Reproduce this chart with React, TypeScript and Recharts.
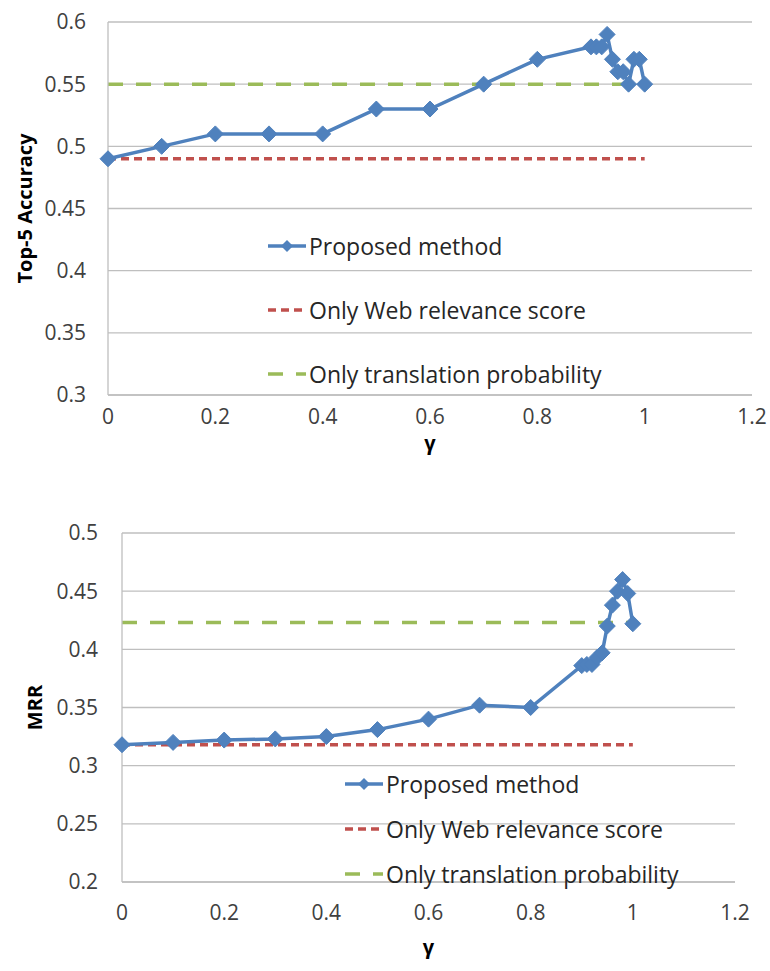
import React from "react";
import { LineChart, Line, XAxis, YAxis, CartesianGrid, Legend } from "recharts";

// gamma values shared by both panels
const gamma = [0, 0.1, 0.2, 0.3, 0.4, 0.5, 0.6, 0.7, 0.8, 0.9, 0.91, 0.92, 0.93, 0.94, 0.95, 0.96, 0.97, 0.98, 0.99, 1.0];

const top5Proposed = [0.49, 0.5, 0.51, 0.51, 0.51, 0.53, 0.53, 0.55, 0.57, 0.58, 0.58, 0.58, 0.59, 0.57, 0.56, 0.56, 0.55, 0.57, 0.57, 0.55];
const top5WebOnly = 0.49;
const top5TransOnly = 0.55;

const mrrProposed = [0.318, 0.32, 0.322, 0.323, 0.325, 0.331, 0.34, 0.352, 0.35, 0.386, 0.387, 0.387, 0.393, 0.397, 0.42, 0.438, 0.45, 0.46, 0.448, 0.422];
const mrrWebOnly = 0.318;
const mrrTransOnly = 0.423;

const xTicks = [0, 0.2, 0.4, 0.6, 0.8, 1, 1.2];
const top5Ticks = [0.3, 0.35, 0.4, 0.45, 0.5, 0.55, 0.6];
const mrrTicks = [0.2, 0.25, 0.3, 0.35, 0.4, 0.45, 0.5];

const seriesNames = ["Proposed method", "Only Web relevance score", "Only translation probability"];

const BLUE = "#4F81BD";
const RED = "#C0504D";
const GREEN = "#9BBB59";
const FONT = "'Open Sans', sans-serif";

const toPoints = (ys: number[]) => gamma.map((x, i) => ({ x, y: ys[i] }));
const flat = (y: number) => [{ x: 0, y }, { x: 1, y }];

const Diamond = (props: any) => {
  const { cx, cy, index } = props;
  if (cx == null || cy == null) return null;
  const r = 8;
  return (
    <path
      key={`d-${index}`}
      d={`M${cx},${cy - r}L${cx + r},${cy}L${cx},${cy + r}L${cx - r},${cy}Z`}
      fill={BLUE}
      stroke={BLUE}
      strokeWidth={1}
    />
  );
};

const LegendBox = ({ rowHeight }: { rowHeight: number }) => (
  <div style={{ fontFamily: FONT, fontSize: 23, color: "#262626" }}>
    {seriesNames.map((name, i) => (
      <div key={name} style={{ height: rowHeight, display: "flex", alignItems: "center" }}>
        <svg width={40} height={18} style={{ marginRight: 1 }}>
          {i === 0 && (
            <>
              <line x1={0} y1={9} x2={38} y2={9} stroke={BLUE} strokeWidth={3.5} />
              <path d="M19,3L25,9L19,15L13,9Z" fill={BLUE} />
            </>
          )}
          {i === 1 && <line x1={0} y1={9} x2={38} y2={9} stroke={RED} strokeWidth={3.5} strokeDasharray="8 5" />}
          {i === 2 && <line x1={0} y1={9} x2={38} y2={9} stroke={GREEN} strokeWidth={3.5} strokeDasharray="15 13" />}
        </svg>
        <span style={{ whiteSpace: "nowrap" }}>{name}</span>
      </div>
    ))}
  </div>
);

const tickStyle = { fill: "#404040", fontSize: 21, fontFamily: FONT };
const titleStyle = { fill: "#000", fontSize: 20, fontWeight: 700, fontFamily: FONT, textAnchor: "middle" as const };

interface PanelProps {
  width: number;
  height: number;
  margin: { top: number; right: number; bottom: number; left: number };
  yAxisWidth: number;
  yTicks: number[];
  yTitle: string;
  yTitleOffset: number;
  xTickMargin: number;
  xTitleOffset: number;
  yTickMargin: number;
  proposed: number[];
  webOnly: number;
  transOnly: number;
  legendLeft: number;
  legendTop: number;
  legendRow: number;
}

function Panel(p: PanelProps) {
  return (
    <LineChart width={p.width} height={p.height} margin={p.margin}>
      <CartesianGrid vertical={false} stroke="#BFBFBF" strokeWidth={1.3} />
      <XAxis
        type="number"
        dataKey="x"
        domain={[0, 1.2]}
        ticks={xTicks}
        height={30}
        tickSize={0}
        tickLine={false}
        tickMargin={p.xTickMargin}
        axisLine={{ stroke: "#BFBFBF", strokeWidth: 1.3 }}
        tick={tickStyle}
        label={{ value: "γ", position: "bottom", offset: p.xTitleOffset, style: titleStyle }}
      />
      <YAxis
        type="number"
        dataKey="y"
        domain={[p.yTicks[0], p.yTicks[p.yTicks.length - 1]]}
        ticks={p.yTicks}
        width={p.yAxisWidth}
        tickSize={0}
        tickLine={false}
        tickMargin={p.yTickMargin}
        axisLine={{ stroke: "#BFBFBF", strokeWidth: 1.3 }}
        tick={tickStyle}
        label={{ value: p.yTitle, angle: -90, position: "insideLeft", offset: p.yTitleOffset, style: titleStyle }}
      />
      <Legend
        layout="vertical"
        align="center"
        verticalAlign="middle"
        wrapperStyle={{ left: p.legendLeft, top: p.legendTop, width: "auto" }}
        content={() => <LegendBox rowHeight={p.legendRow} />}
      />
      <Line
        data={flat(p.webOnly)}
        dataKey="y"
        stroke={RED}
        strokeWidth={3.5}
        strokeDasharray="8 5"
        dot={false}
        isAnimationActive={false}
      />
      <Line
        data={flat(p.transOnly)}
        dataKey="y"
        stroke={GREEN}
        strokeWidth={3.5}
        strokeDasharray="15 13"
        dot={false}
        isAnimationActive={false}
      />
      <Line
        data={toPoints(p.proposed)}
        dataKey="y"
        stroke={BLUE}
        strokeWidth={3.5}
        dot={Diamond}
        isAnimationActive={false}
      />
    </LineChart>
  );
}

export default function App() {
  return (
    <div style={{ position: "absolute", left: 0, top: 0, width: 770, height: 971, background: "#fff" }}>
      <div style={{ position: "absolute", left: 0, top: 0 }}>
        <Panel
          width={770}
          height={480}
          margin={{ top: 22, right: 18, bottom: 55, left: 8 }}
          yAxisWidth={100}
          yTicks={top5Ticks}
          yTitle="Top-5 Accuracy"
          yTitleOffset={17}
          yTickMargin={22}
          xTickMargin={14}
          xTitleOffset={11}
          proposed={top5Proposed}
          webOnly={top5WebOnly}
          transOnly={top5TransOnly}
          legendLeft={268}
          legendTop={214}
          legendRow={64}
        />
      </div>
      <div style={{ position: "absolute", left: 0, top: 480 }}>
        <Panel
          width={770}
          height={491}
          margin={{ top: 53, right: 35, bottom: 59, left: 8 }}
          yAxisWidth={114}
          yTicks={mrrTicks}
          yTitle="MRR"
          yTitleOffset={27}
          yTickMargin={24}
          xTickMargin={23}
          xTitleOffset={28}
          proposed={mrrProposed}
          webOnly={mrrWebOnly}
          transOnly={mrrTransOnly}
          legendLeft={345}
          legendTop={281}
          legendRow={45}
        />
      </div>
    </div>
  );
}
